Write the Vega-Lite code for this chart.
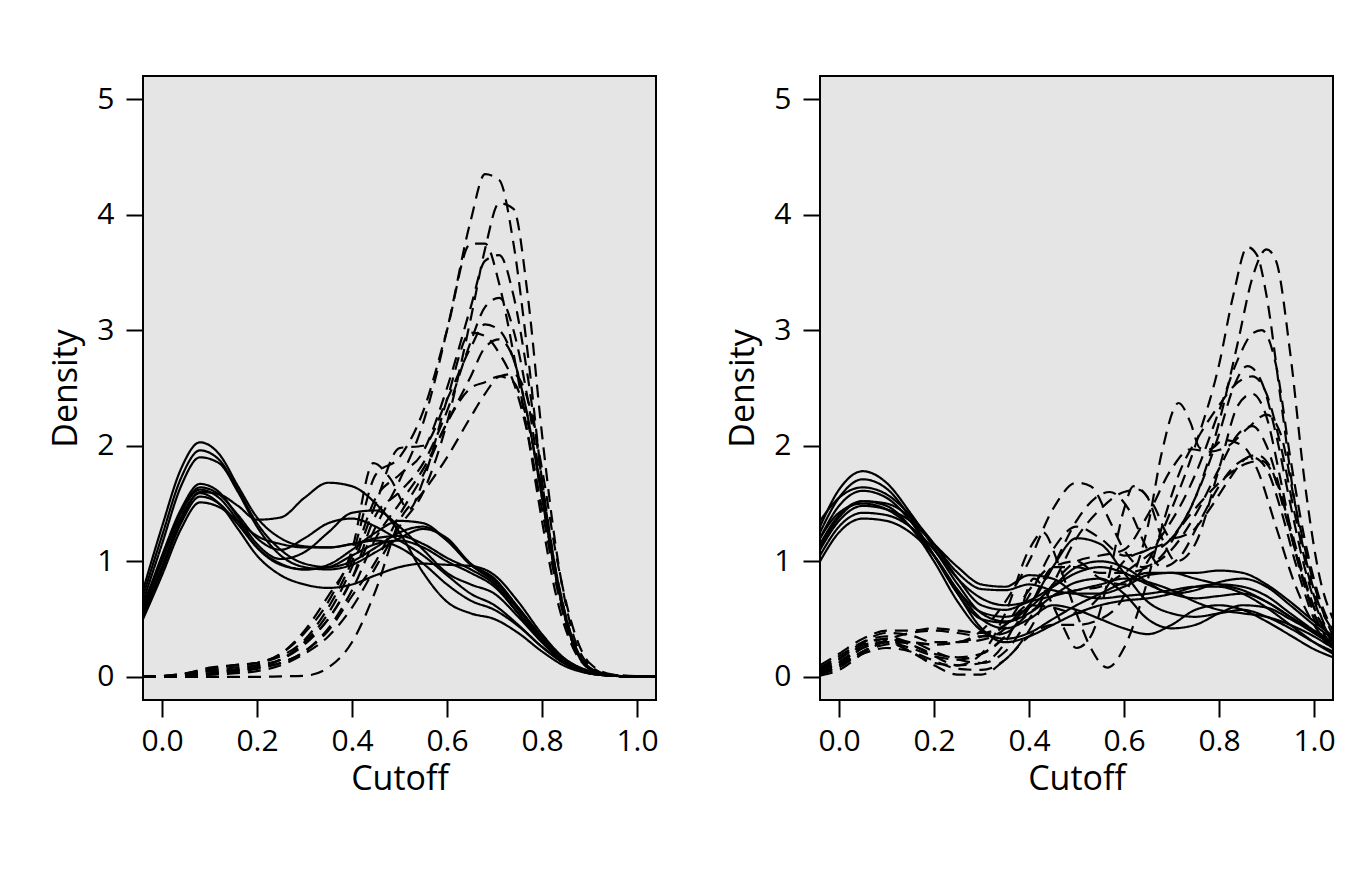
{
"$schema": "https://vega.github.io/schema/vega-lite/v6.json",
"padding": {"left": 48, "top": 75, "right": 5, "bottom": 5},
"background": "white",
"bounds": "flush",
"spacing": 164,
"config": {
  "font": "Open Sans",
  "view": {"fill": "#e5e5e5", "stroke": "black", "strokeWidth": 2},
  "axis": {"domain": false, "grid": false, "tickColor": "black", "tickWidth": 2, "tickSize": 17,
    "labelFont": "Open Sans", "labelFontSize": 30, "labelColor": "black",
    "titleFont": "Open Sans", "titleFontSize": 34, "titleFontWeight": "normal", "titleColor": "black"},
  "axisX": {"labelPadding": 9, "titlePadding": 6},
  "axisY": {"labelPadding": 12, "titlePadding": 13}
},
"hconcat": [
 {"width": 513, "height": 624, "data": {"name": "L"},
  "mark": {"type": "line", "interpolate": "monotone", "strokeWidth": 2.2, "color": "black", "clip": true},
  "encoding": {
   "x": {"field": "x", "type": "quantitative", "scale": {"domain": [-0.04, 1.04], "nice": false, "zero": false}, "axis": {"values": [0, 0.2, 0.4, 0.6, 0.8, 1], "format": ".1f", "title": "Cutoff"}},
   "y": {"field": "y", "type": "quantitative", "scale": {"domain": [-0.2, 5.2], "nice": false}, "axis": {"values": [0, 1, 2, 3, 4, 5], "format": "d", "title": "Density"}},
   "detail": {"field": "c"},
   "strokeDash": {"field": "t", "type": "nominal", "scale": {"domain": ["s", "d"], "range": [[1, 0], [13, 8]]}, "legend": null}
  }},
 {"width": 513, "height": 624, "data": {"name": "R"},
  "mark": {"type": "line", "interpolate": "monotone", "strokeWidth": 2.2, "color": "black", "clip": true},
  "encoding": {
   "x": {"field": "x", "type": "quantitative", "scale": {"domain": [-0.04, 1.04], "nice": false, "zero": false}, "axis": {"values": [0, 0.2, 0.4, 0.6, 0.8, 1], "format": ".1f", "title": "Cutoff"}},
   "y": {"field": "y", "type": "quantitative", "scale": {"domain": [-0.2, 5.2], "nice": false}, "axis": {"values": [0, 1, 2, 3, 4, 5], "format": "d", "title": "Density"}},
   "detail": {"field": "c"},
   "strokeDash": {"field": "t", "type": "nominal", "scale": {"domain": ["s", "d"], "range": [[1, 0], [13, 8]]}, "legend": null}
  }}
],
"datasets": {
"L": [
{"c":"a1","t":"s","x":-0.04,"y":0.75},{"c":"a1","t":"s","x":0,"y":1.3},{"c":"a1","t":"s","x":0.04,"y":1.8},{"c":"a1","t":"s","x":0.08,"y":2.03},{"c":"a1","t":"s","x":0.12,"y":1.93},{"c":"a1","t":"s","x":0.16,"y":1.65},{"c":"a1","t":"s","x":0.2,"y":1.38},{"c":"a1","t":"s","x":0.25,"y":1.2},{"c":"a1","t":"s","x":0.3,"y":1.13},{"c":"a1","t":"s","x":0.35,"y":1.12},{"c":"a1","t":"s","x":0.4,"y":1.15},{"c":"a1","t":"s","x":0.45,"y":1.2},{"c":"a1","t":"s","x":0.5,"y":1.22},{"c":"a1","t":"s","x":0.55,"y":1.15},{"c":"a1","t":"s","x":0.6,"y":1.03},{"c":"a1","t":"s","x":0.65,"y":0.93},{"c":"a1","t":"s","x":0.7,"y":0.8},{"c":"a1","t":"s","x":0.75,"y":0.55},{"c":"a1","t":"s","x":0.8,"y":0.32},{"c":"a1","t":"s","x":0.85,"y":0.14},{"c":"a1","t":"s","x":0.9,"y":0.04},{"c":"a1","t":"s","x":0.95,"y":0.01},{"c":"a1","t":"s","x":1.04,"y":0},
{"c":"a2","t":"s","x":-0.04,"y":0.7},{"c":"a2","t":"s","x":0,"y":1.22},{"c":"a2","t":"s","x":0.04,"y":1.72},{"c":"a2","t":"s","x":0.08,"y":1.96},{"c":"a2","t":"s","x":0.12,"y":1.88},{"c":"a2","t":"s","x":0.16,"y":1.62},{"c":"a2","t":"s","x":0.2,"y":1.33},{"c":"a2","t":"s","x":0.25,"y":1.1},{"c":"a2","t":"s","x":0.3,"y":0.98},{"c":"a2","t":"s","x":0.35,"y":0.95},{"c":"a2","t":"s","x":0.4,"y":1.0},{"c":"a2","t":"s","x":0.45,"y":1.12},{"c":"a2","t":"s","x":0.5,"y":1.25},{"c":"a2","t":"s","x":0.55,"y":1.3},{"c":"a2","t":"s","x":0.6,"y":1.18},{"c":"a2","t":"s","x":0.65,"y":0.97},{"c":"a2","t":"s","x":0.7,"y":0.82},{"c":"a2","t":"s","x":0.75,"y":0.58},{"c":"a2","t":"s","x":0.8,"y":0.33},{"c":"a2","t":"s","x":0.85,"y":0.14},{"c":"a2","t":"s","x":0.9,"y":0.04},{"c":"a2","t":"s","x":0.95,"y":0.01},{"c":"a2","t":"s","x":1.04,"y":0},
{"c":"a3","t":"s","x":-0.04,"y":0.65},{"c":"a3","t":"s","x":0,"y":1.15},{"c":"a3","t":"s","x":0.04,"y":1.65},{"c":"a3","t":"s","x":0.08,"y":1.9},{"c":"a3","t":"s","x":0.12,"y":1.85},{"c":"a3","t":"s","x":0.16,"y":1.6},{"c":"a3","t":"s","x":0.2,"y":1.3},{"c":"a3","t":"s","x":0.25,"y":1.05},{"c":"a3","t":"s","x":0.3,"y":0.95},{"c":"a3","t":"s","x":0.35,"y":0.93},{"c":"a3","t":"s","x":0.4,"y":0.97},{"c":"a3","t":"s","x":0.45,"y":1.08},{"c":"a3","t":"s","x":0.5,"y":1.2},{"c":"a3","t":"s","x":0.55,"y":1.28},{"c":"a3","t":"s","x":0.6,"y":1.2},{"c":"a3","t":"s","x":0.65,"y":0.98},{"c":"a3","t":"s","x":0.7,"y":0.85},{"c":"a3","t":"s","x":0.75,"y":0.6},{"c":"a3","t":"s","x":0.8,"y":0.35},{"c":"a3","t":"s","x":0.85,"y":0.15},{"c":"a3","t":"s","x":0.9,"y":0.05},{"c":"a3","t":"s","x":0.95,"y":0.01},{"c":"a3","t":"s","x":1.04,"y":0},
{"c":"a4","t":"s","x":-0.04,"y":0.55},{"c":"a4","t":"s","x":0,"y":0.95},{"c":"a4","t":"s","x":0.04,"y":1.35},{"c":"a4","t":"s","x":0.08,"y":1.6},{"c":"a4","t":"s","x":0.12,"y":1.58},{"c":"a4","t":"s","x":0.16,"y":1.48},{"c":"a4","t":"s","x":0.2,"y":1.36},{"c":"a4","t":"s","x":0.25,"y":1.38},{"c":"a4","t":"s","x":0.3,"y":1.55},{"c":"a4","t":"s","x":0.35,"y":1.68},{"c":"a4","t":"s","x":0.4,"y":1.65},{"c":"a4","t":"s","x":0.45,"y":1.5},{"c":"a4","t":"s","x":0.5,"y":1.25},{"c":"a4","t":"s","x":0.55,"y":0.9},{"c":"a4","t":"s","x":0.6,"y":0.65},{"c":"a4","t":"s","x":0.65,"y":0.55},{"c":"a4","t":"s","x":0.7,"y":0.5},{"c":"a4","t":"s","x":0.75,"y":0.38},{"c":"a4","t":"s","x":0.8,"y":0.22},{"c":"a4","t":"s","x":0.85,"y":0.09},{"c":"a4","t":"s","x":0.9,"y":0.03},{"c":"a4","t":"s","x":0.95,"y":0.01},{"c":"a4","t":"s","x":1.04,"y":0},
{"c":"a5","t":"s","x":-0.04,"y":0.6},{"c":"a5","t":"s","x":0,"y":1.05},{"c":"a5","t":"s","x":0.04,"y":1.45},{"c":"a5","t":"s","x":0.08,"y":1.67},{"c":"a5","t":"s","x":0.12,"y":1.6},{"c":"a5","t":"s","x":0.16,"y":1.38},{"c":"a5","t":"s","x":0.2,"y":1.15},{"c":"a5","t":"s","x":0.25,"y":1.02},{"c":"a5","t":"s","x":0.3,"y":1.08},{"c":"a5","t":"s","x":0.35,"y":1.25},{"c":"a5","t":"s","x":0.4,"y":1.42},{"c":"a5","t":"s","x":0.45,"y":1.44},{"c":"a5","t":"s","x":0.5,"y":1.3},{"c":"a5","t":"s","x":0.55,"y":1.1},{"c":"a5","t":"s","x":0.6,"y":0.9},{"c":"a5","t":"s","x":0.65,"y":0.8},{"c":"a5","t":"s","x":0.7,"y":0.72},{"c":"a5","t":"s","x":0.75,"y":0.52},{"c":"a5","t":"s","x":0.8,"y":0.3},{"c":"a5","t":"s","x":0.85,"y":0.12},{"c":"a5","t":"s","x":0.9,"y":0.04},{"c":"a5","t":"s","x":0.95,"y":0.01},{"c":"a5","t":"s","x":1.04,"y":0},
{"c":"a6","t":"s","x":-0.04,"y":0.58},{"c":"a6","t":"s","x":0,"y":1.0},{"c":"a6","t":"s","x":0.04,"y":1.42},{"c":"a6","t":"s","x":0.08,"y":1.64},{"c":"a6","t":"s","x":0.12,"y":1.58},{"c":"a6","t":"s","x":0.16,"y":1.4},{"c":"a6","t":"s","x":0.2,"y":1.2},{"c":"a6","t":"s","x":0.25,"y":1.1},{"c":"a6","t":"s","x":0.3,"y":1.2},{"c":"a6","t":"s","x":0.35,"y":1.33},{"c":"a6","t":"s","x":0.4,"y":1.37},{"c":"a6","t":"s","x":0.45,"y":1.3},{"c":"a6","t":"s","x":0.5,"y":1.18},{"c":"a6","t":"s","x":0.55,"y":1.05},{"c":"a6","t":"s","x":0.6,"y":0.88},{"c":"a6","t":"s","x":0.65,"y":0.72},{"c":"a6","t":"s","x":0.7,"y":0.62},{"c":"a6","t":"s","x":0.75,"y":0.45},{"c":"a6","t":"s","x":0.8,"y":0.26},{"c":"a6","t":"s","x":0.85,"y":0.11},{"c":"a6","t":"s","x":0.9,"y":0.03},{"c":"a6","t":"s","x":0.95,"y":0.01},{"c":"a6","t":"s","x":1.04,"y":0},
{"c":"a7","t":"s","x":-0.04,"y":0.62},{"c":"a7","t":"s","x":0,"y":1.02},{"c":"a7","t":"s","x":0.04,"y":1.42},{"c":"a7","t":"s","x":0.08,"y":1.62},{"c":"a7","t":"s","x":0.12,"y":1.55},{"c":"a7","t":"s","x":0.16,"y":1.35},{"c":"a7","t":"s","x":0.2,"y":1.12},{"c":"a7","t":"s","x":0.25,"y":0.97},{"c":"a7","t":"s","x":0.3,"y":0.93},{"c":"a7","t":"s","x":0.35,"y":0.97},{"c":"a7","t":"s","x":0.4,"y":1.1},{"c":"a7","t":"s","x":0.45,"y":1.25},{"c":"a7","t":"s","x":0.5,"y":1.35},{"c":"a7","t":"s","x":0.55,"y":1.33},{"c":"a7","t":"s","x":0.6,"y":1.18},{"c":"a7","t":"s","x":0.65,"y":0.97},{"c":"a7","t":"s","x":0.7,"y":0.84},{"c":"a7","t":"s","x":0.75,"y":0.6},{"c":"a7","t":"s","x":0.8,"y":0.34},{"c":"a7","t":"s","x":0.85,"y":0.14},{"c":"a7","t":"s","x":0.9,"y":0.04},{"c":"a7","t":"s","x":0.95,"y":0.01},{"c":"a7","t":"s","x":1.04,"y":0},
{"c":"a8","t":"s","x":-0.04,"y":0.55},{"c":"a8","t":"s","x":0,"y":0.95},{"c":"a8","t":"s","x":0.04,"y":1.38},{"c":"a8","t":"s","x":0.08,"y":1.59},{"c":"a8","t":"s","x":0.12,"y":1.5},{"c":"a8","t":"s","x":0.16,"y":1.28},{"c":"a8","t":"s","x":0.2,"y":1.05},{"c":"a8","t":"s","x":0.25,"y":0.88},{"c":"a8","t":"s","x":0.3,"y":0.8},{"c":"a8","t":"s","x":0.35,"y":0.77},{"c":"a8","t":"s","x":0.4,"y":0.8},{"c":"a8","t":"s","x":0.45,"y":0.88},{"c":"a8","t":"s","x":0.5,"y":0.95},{"c":"a8","t":"s","x":0.55,"y":0.98},{"c":"a8","t":"s","x":0.6,"y":0.97},{"c":"a8","t":"s","x":0.65,"y":0.96},{"c":"a8","t":"s","x":0.7,"y":0.88},{"c":"a8","t":"s","x":0.75,"y":0.65},{"c":"a8","t":"s","x":0.8,"y":0.37},{"c":"a8","t":"s","x":0.85,"y":0.15},{"c":"a8","t":"s","x":0.9,"y":0.05},{"c":"a8","t":"s","x":0.95,"y":0.01},{"c":"a8","t":"s","x":1.04,"y":0},
{"c":"a9","t":"s","x":-0.04,"y":0.52},{"c":"a9","t":"s","x":0,"y":0.92},{"c":"a9","t":"s","x":0.04,"y":1.33},{"c":"a9","t":"s","x":0.08,"y":1.56},{"c":"a9","t":"s","x":0.12,"y":1.5},{"c":"a9","t":"s","x":0.16,"y":1.32},{"c":"a9","t":"s","x":0.2,"y":1.12},{"c":"a9","t":"s","x":0.25,"y":0.98},{"c":"a9","t":"s","x":0.3,"y":0.93},{"c":"a9","t":"s","x":0.35,"y":0.95},{"c":"a9","t":"s","x":0.4,"y":1.05},{"c":"a9","t":"s","x":0.45,"y":1.15},{"c":"a9","t":"s","x":0.5,"y":1.18},{"c":"a9","t":"s","x":0.55,"y":1.12},{"c":"a9","t":"s","x":0.6,"y":1.0},{"c":"a9","t":"s","x":0.65,"y":0.9},{"c":"a9","t":"s","x":0.7,"y":0.78},{"c":"a9","t":"s","x":0.75,"y":0.55},{"c":"a9","t":"s","x":0.8,"y":0.3},{"c":"a9","t":"s","x":0.85,"y":0.12},{"c":"a9","t":"s","x":0.9,"y":0.04},{"c":"a9","t":"s","x":0.95,"y":0.01},{"c":"a9","t":"s","x":1.04,"y":0},
{"c":"a10","t":"s","x":-0.04,"y":0.5},{"c":"a10","t":"s","x":0,"y":0.88},{"c":"a10","t":"s","x":0.04,"y":1.28},{"c":"a10","t":"s","x":0.08,"y":1.51},{"c":"a10","t":"s","x":0.12,"y":1.47},{"c":"a10","t":"s","x":0.16,"y":1.35},{"c":"a10","t":"s","x":0.2,"y":1.22},{"c":"a10","t":"s","x":0.25,"y":1.15},{"c":"a10","t":"s","x":0.3,"y":1.12},{"c":"a10","t":"s","x":0.35,"y":1.12},{"c":"a10","t":"s","x":0.4,"y":1.15},{"c":"a10","t":"s","x":0.45,"y":1.18},{"c":"a10","t":"s","x":0.5,"y":1.12},{"c":"a10","t":"s","x":0.55,"y":0.98},{"c":"a10","t":"s","x":0.6,"y":0.8},{"c":"a10","t":"s","x":0.65,"y":0.66},{"c":"a10","t":"s","x":0.7,"y":0.58},{"c":"a10","t":"s","x":0.75,"y":0.44},{"c":"a10","t":"s","x":0.8,"y":0.26},{"c":"a10","t":"s","x":0.85,"y":0.11},{"c":"a10","t":"s","x":0.9,"y":0.03},{"c":"a10","t":"s","x":0.95,"y":0.01},{"c":"a10","t":"s","x":1.04,"y":0},
{"c":"b1","t":"d","x":-0.04,"y":0},{"c":"b1","t":"d","x":0.05,"y":0.02},{"c":"b1","t":"d","x":0.1,"y":0.05},{"c":"b1","t":"d","x":0.15,"y":0.06},{"c":"b1","t":"d","x":0.2,"y":0.08},{"c":"b1","t":"d","x":0.25,"y":0.15},{"c":"b1","t":"d","x":0.3,"y":0.3},{"c":"b1","t":"d","x":0.35,"y":0.5},{"c":"b1","t":"d","x":0.4,"y":0.85},{"c":"b1","t":"d","x":0.45,"y":1.3},{"c":"b1","t":"d","x":0.5,"y":1.7},{"c":"b1","t":"d","x":0.55,"y":2.2},{"c":"b1","t":"d","x":0.6,"y":3.0},{"c":"b1","t":"d","x":0.65,"y":3.95},{"c":"b1","t":"d","x":0.68,"y":4.35},{"c":"b1","t":"d","x":0.71,"y":4.3},{"c":"b1","t":"d","x":0.74,"y":3.75},{"c":"b1","t":"d","x":0.77,"y":2.8},{"c":"b1","t":"d","x":0.8,"y":1.7},{"c":"b1","t":"d","x":0.83,"y":0.9},{"c":"b1","t":"d","x":0.86,"y":0.38},{"c":"b1","t":"d","x":0.9,"y":0.08},{"c":"b1","t":"d","x":0.95,"y":0.01},{"c":"b1","t":"d","x":1.04,"y":0},
{"c":"b2","t":"d","x":-0.04,"y":0},{"c":"b2","t":"d","x":0.05,"y":0.01},{"c":"b2","t":"d","x":0.1,"y":0.02},{"c":"b2","t":"d","x":0.15,"y":0.03},{"c":"b2","t":"d","x":0.2,"y":0.05},{"c":"b2","t":"d","x":0.25,"y":0.1},{"c":"b2","t":"d","x":0.3,"y":0.2},{"c":"b2","t":"d","x":0.35,"y":0.35},{"c":"b2","t":"d","x":0.4,"y":0.6},{"c":"b2","t":"d","x":0.45,"y":0.95},{"c":"b2","t":"d","x":0.5,"y":1.3},{"c":"b2","t":"d","x":0.55,"y":1.6},{"c":"b2","t":"d","x":0.6,"y":2.2},{"c":"b2","t":"d","x":0.65,"y":3.1},{"c":"b2","t":"d","x":0.68,"y":3.7},{"c":"b2","t":"d","x":0.71,"y":4.1},{"c":"b2","t":"d","x":0.74,"y":4.05},{"c":"b2","t":"d","x":0.77,"y":3.3},{"c":"b2","t":"d","x":0.8,"y":2.1},{"c":"b2","t":"d","x":0.83,"y":1.1},{"c":"b2","t":"d","x":0.86,"y":0.45},{"c":"b2","t":"d","x":0.9,"y":0.1},{"c":"b2","t":"d","x":0.95,"y":0.01},{"c":"b2","t":"d","x":1.04,"y":0},
{"c":"b3","t":"d","x":-0.04,"y":0},{"c":"b3","t":"d","x":0.05,"y":0.03},{"c":"b3","t":"d","x":0.1,"y":0.08},{"c":"b3","t":"d","x":0.15,"y":0.1},{"c":"b3","t":"d","x":0.2,"y":0.12},{"c":"b3","t":"d","x":0.25,"y":0.2},{"c":"b3","t":"d","x":0.3,"y":0.4},{"c":"b3","t":"d","x":0.35,"y":0.7},{"c":"b3","t":"d","x":0.4,"y":1.05},{"c":"b3","t":"d","x":0.45,"y":1.75},{"c":"b3","t":"d","x":0.5,"y":1.9},{"c":"b3","t":"d","x":0.55,"y":2.3},{"c":"b3","t":"d","x":0.6,"y":3.0},{"c":"b3","t":"d","x":0.65,"y":3.75},{"c":"b3","t":"d","x":0.68,"y":3.75},{"c":"b3","t":"d","x":0.71,"y":3.4},{"c":"b3","t":"d","x":0.74,"y":2.8},{"c":"b3","t":"d","x":0.77,"y":2.1},{"c":"b3","t":"d","x":0.8,"y":1.35},{"c":"b3","t":"d","x":0.83,"y":0.7},{"c":"b3","t":"d","x":0.86,"y":0.3},{"c":"b3","t":"d","x":0.9,"y":0.07},{"c":"b3","t":"d","x":0.95,"y":0.01},{"c":"b3","t":"d","x":1.04,"y":0},
{"c":"b4","t":"d","x":-0.04,"y":0},{"c":"b4","t":"d","x":0.05,"y":0.02},{"c":"b4","t":"d","x":0.1,"y":0.06},{"c":"b4","t":"d","x":0.15,"y":0.1},{"c":"b4","t":"d","x":0.2,"y":0.12},{"c":"b4","t":"d","x":0.25,"y":0.18},{"c":"b4","t":"d","x":0.3,"y":0.32},{"c":"b4","t":"d","x":0.35,"y":0.6},{"c":"b4","t":"d","x":0.4,"y":1.0},{"c":"b4","t":"d","x":0.45,"y":1.55},{"c":"b4","t":"d","x":0.5,"y":1.75},{"c":"b4","t":"d","x":0.55,"y":1.95},{"c":"b4","t":"d","x":0.6,"y":2.5},{"c":"b4","t":"d","x":0.65,"y":3.2},{"c":"b4","t":"d","x":0.68,"y":3.6},{"c":"b4","t":"d","x":0.71,"y":3.65},{"c":"b4","t":"d","x":0.74,"y":3.3},{"c":"b4","t":"d","x":0.77,"y":2.6},{"c":"b4","t":"d","x":0.8,"y":1.7},{"c":"b4","t":"d","x":0.83,"y":0.9},{"c":"b4","t":"d","x":0.86,"y":0.38},{"c":"b4","t":"d","x":0.9,"y":0.08},{"c":"b4","t":"d","x":0.95,"y":0.01},{"c":"b4","t":"d","x":1.04,"y":0},
{"c":"b5","t":"d","x":-0.04,"y":0},{"c":"b5","t":"d","x":0.05,"y":0.01},{"c":"b5","t":"d","x":0.1,"y":0.03},{"c":"b5","t":"d","x":0.15,"y":0.06},{"c":"b5","t":"d","x":0.2,"y":0.1},{"c":"b5","t":"d","x":0.25,"y":0.15},{"c":"b5","t":"d","x":0.3,"y":0.28},{"c":"b5","t":"d","x":0.35,"y":0.5},{"c":"b5","t":"d","x":0.4,"y":0.85},{"c":"b5","t":"d","x":0.45,"y":1.4},{"c":"b5","t":"d","x":0.5,"y":1.6},{"c":"b5","t":"d","x":0.55,"y":1.85},{"c":"b5","t":"d","x":0.6,"y":2.3},{"c":"b5","t":"d","x":0.65,"y":2.9},{"c":"b5","t":"d","x":0.68,"y":3.2},{"c":"b5","t":"d","x":0.71,"y":3.28},{"c":"b5","t":"d","x":0.74,"y":3.0},{"c":"b5","t":"d","x":0.77,"y":2.4},{"c":"b5","t":"d","x":0.8,"y":1.6},{"c":"b5","t":"d","x":0.83,"y":0.85},{"c":"b5","t":"d","x":0.86,"y":0.35},{"c":"b5","t":"d","x":0.9,"y":0.07},{"c":"b5","t":"d","x":0.95,"y":0.01},{"c":"b5","t":"d","x":1.04,"y":0},
{"c":"b6","t":"d","x":-0.04,"y":0},{"c":"b6","t":"d","x":0.05,"y":0.02},{"c":"b6","t":"d","x":0.1,"y":0.05},{"c":"b6","t":"d","x":0.15,"y":0.08},{"c":"b6","t":"d","x":0.2,"y":0.1},{"c":"b6","t":"d","x":0.25,"y":0.15},{"c":"b6","t":"d","x":0.3,"y":0.3},{"c":"b6","t":"d","x":0.35,"y":0.55},{"c":"b6","t":"d","x":0.4,"y":0.95},{"c":"b6","t":"d","x":0.45,"y":1.5},{"c":"b6","t":"d","x":0.5,"y":1.98},{"c":"b6","t":"d","x":0.55,"y":2.0},{"c":"b6","t":"d","x":0.6,"y":2.4},{"c":"b6","t":"d","x":0.65,"y":2.85},{"c":"b6","t":"d","x":0.68,"y":3.05},{"c":"b6","t":"d","x":0.71,"y":3.0},{"c":"b6","t":"d","x":0.74,"y":2.75},{"c":"b6","t":"d","x":0.77,"y":2.25},{"c":"b6","t":"d","x":0.8,"y":1.55},{"c":"b6","t":"d","x":0.83,"y":0.85},{"c":"b6","t":"d","x":0.86,"y":0.35},{"c":"b6","t":"d","x":0.9,"y":0.07},{"c":"b6","t":"d","x":0.95,"y":0.01},{"c":"b6","t":"d","x":1.04,"y":0},
{"c":"b7","t":"d","x":-0.04,"y":0},{"c":"b7","t":"d","x":0.05,"y":0.03},{"c":"b7","t":"d","x":0.1,"y":0.07},{"c":"b7","t":"d","x":0.15,"y":0.1},{"c":"b7","t":"d","x":0.2,"y":0.12},{"c":"b7","t":"d","x":0.25,"y":0.2},{"c":"b7","t":"d","x":0.3,"y":0.38},{"c":"b7","t":"d","x":0.35,"y":0.65},{"c":"b7","t":"d","x":0.4,"y":1.1},{"c":"b7","t":"d","x":0.445,"y":1.85},{"c":"b7","t":"d","x":0.48,"y":1.72},{"c":"b7","t":"d","x":0.52,"y":1.45},{"c":"b7","t":"d","x":0.55,"y":1.7},{"c":"b7","t":"d","x":0.6,"y":2.4},{"c":"b7","t":"d","x":0.65,"y":2.98},{"c":"b7","t":"d","x":0.68,"y":2.95},{"c":"b7","t":"d","x":0.71,"y":2.8},{"c":"b7","t":"d","x":0.74,"y":2.55},{"c":"b7","t":"d","x":0.77,"y":2.1},{"c":"b7","t":"d","x":0.8,"y":1.45},{"c":"b7","t":"d","x":0.83,"y":0.8},{"c":"b7","t":"d","x":0.86,"y":0.33},{"c":"b7","t":"d","x":0.9,"y":0.07},{"c":"b7","t":"d","x":0.95,"y":0.01},{"c":"b7","t":"d","x":1.04,"y":0},
{"c":"b8","t":"d","x":-0.04,"y":0},{"c":"b8","t":"d","x":0.05,"y":0.01},{"c":"b8","t":"d","x":0.1,"y":0.03},{"c":"b8","t":"d","x":0.15,"y":0.05},{"c":"b8","t":"d","x":0.2,"y":0.08},{"c":"b8","t":"d","x":0.25,"y":0.12},{"c":"b8","t":"d","x":0.3,"y":0.22},{"c":"b8","t":"d","x":0.35,"y":0.42},{"c":"b8","t":"d","x":0.4,"y":0.75},{"c":"b8","t":"d","x":0.45,"y":1.2},{"c":"b8","t":"d","x":0.5,"y":1.5},{"c":"b8","t":"d","x":0.55,"y":1.8},{"c":"b8","t":"d","x":0.6,"y":2.2},{"c":"b8","t":"d","x":0.65,"y":2.6},{"c":"b8","t":"d","x":0.68,"y":2.85},{"c":"b8","t":"d","x":0.71,"y":2.92},{"c":"b8","t":"d","x":0.74,"y":2.75},{"c":"b8","t":"d","x":0.77,"y":2.25},{"c":"b8","t":"d","x":0.8,"y":1.55},{"c":"b8","t":"d","x":0.83,"y":0.85},{"c":"b8","t":"d","x":0.86,"y":0.35},{"c":"b8","t":"d","x":0.9,"y":0.07},{"c":"b8","t":"d","x":0.95,"y":0.01},{"c":"b8","t":"d","x":1.04,"y":0},
{"c":"b9","t":"d","x":-0.04,"y":0},{"c":"b9","t":"d","x":0.05,"y":0},{"c":"b9","t":"d","x":0.1,"y":0},{"c":"b9","t":"d","x":0.15,"y":0},{"c":"b9","t":"d","x":0.2,"y":0},{"c":"b9","t":"d","x":0.25,"y":0.005},{"c":"b9","t":"d","x":0.3,"y":0.01},{"c":"b9","t":"d","x":0.35,"y":0.08},{"c":"b9","t":"d","x":0.4,"y":0.3},{"c":"b9","t":"d","x":0.45,"y":0.75},{"c":"b9","t":"d","x":0.5,"y":1.35},{"c":"b9","t":"d","x":0.55,"y":1.6},{"c":"b9","t":"d","x":0.6,"y":1.9},{"c":"b9","t":"d","x":0.65,"y":2.25},{"c":"b9","t":"d","x":0.68,"y":2.45},{"c":"b9","t":"d","x":0.71,"y":2.6},{"c":"b9","t":"d","x":0.74,"y":2.62},{"c":"b9","t":"d","x":0.77,"y":2.4},{"c":"b9","t":"d","x":0.8,"y":1.8},{"c":"b9","t":"d","x":0.83,"y":1.05},{"c":"b9","t":"d","x":0.86,"y":0.5},{"c":"b9","t":"d","x":0.9,"y":0.12},{"c":"b9","t":"d","x":0.95,"y":0.02},{"c":"b9","t":"d","x":1.04,"y":0},
{"c":"b10","t":"d","x":-0.04,"y":0},{"c":"b10","t":"d","x":0.05,"y":0.01},{"c":"b10","t":"d","x":0.1,"y":0.02},{"c":"b10","t":"d","x":0.15,"y":0.04},{"c":"b10","t":"d","x":0.2,"y":0.07},{"c":"b10","t":"d","x":0.25,"y":0.12},{"c":"b10","t":"d","x":0.3,"y":0.22},{"c":"b10","t":"d","x":0.35,"y":0.4},{"c":"b10","t":"d","x":0.4,"y":0.7},{"c":"b10","t":"d","x":0.45,"y":1.0},{"c":"b10","t":"d","x":0.5,"y":1.4},{"c":"b10","t":"d","x":0.55,"y":1.75},{"c":"b10","t":"d","x":0.6,"y":2.2},{"c":"b10","t":"d","x":0.65,"y":2.5},{"c":"b10","t":"d","x":0.68,"y":2.55},{"c":"b10","t":"d","x":0.71,"y":2.6},{"c":"b10","t":"d","x":0.74,"y":2.55},{"c":"b10","t":"d","x":0.77,"y":2.2},{"c":"b10","t":"d","x":0.8,"y":1.6},{"c":"b10","t":"d","x":0.83,"y":0.9},{"c":"b10","t":"d","x":0.86,"y":0.38},{"c":"b10","t":"d","x":0.9,"y":0.08},{"c":"b10","t":"d","x":0.95,"y":0.01},{"c":"b10","t":"d","x":1.04,"y":0}
],
"R": [
{"c":"c1","t":"s","x":-0.04,"y":1.3},{"c":"c1","t":"s","x":0,"y":1.62},{"c":"c1","t":"s","x":0.05,"y":1.78},{"c":"c1","t":"s","x":0.1,"y":1.68},{"c":"c1","t":"s","x":0.15,"y":1.42},{"c":"c1","t":"s","x":0.2,"y":1.12},{"c":"c1","t":"s","x":0.25,"y":0.85},{"c":"c1","t":"s","x":0.3,"y":0.68},{"c":"c1","t":"s","x":0.35,"y":0.62},{"c":"c1","t":"s","x":0.4,"y":0.66},{"c":"c1","t":"s","x":0.45,"y":0.78},{"c":"c1","t":"s","x":0.5,"y":0.9},{"c":"c1","t":"s","x":0.55,"y":0.95},{"c":"c1","t":"s","x":0.6,"y":0.9},{"c":"c1","t":"s","x":0.65,"y":0.8},{"c":"c1","t":"s","x":0.7,"y":0.72},{"c":"c1","t":"s","x":0.75,"y":0.68},{"c":"c1","t":"s","x":0.8,"y":0.7},{"c":"c1","t":"s","x":0.85,"y":0.72},{"c":"c1","t":"s","x":0.9,"y":0.65},{"c":"c1","t":"s","x":0.95,"y":0.52},{"c":"c1","t":"s","x":1.0,"y":0.38},{"c":"c1","t":"s","x":1.04,"y":0.28},
{"c":"c2","t":"s","x":-0.04,"y":1.25},{"c":"c2","t":"s","x":0,"y":1.55},{"c":"c2","t":"s","x":0.05,"y":1.71},{"c":"c2","t":"s","x":0.1,"y":1.63},{"c":"c2","t":"s","x":0.15,"y":1.38},{"c":"c2","t":"s","x":0.2,"y":1.05},{"c":"c2","t":"s","x":0.25,"y":0.72},{"c":"c2","t":"s","x":0.3,"y":0.5},{"c":"c2","t":"s","x":0.35,"y":0.47},{"c":"c2","t":"s","x":0.4,"y":0.62},{"c":"c2","t":"s","x":0.45,"y":0.95},{"c":"c2","t":"s","x":0.5,"y":1.2},{"c":"c2","t":"s","x":0.55,"y":1.15},{"c":"c2","t":"s","x":0.6,"y":0.9},{"c":"c2","t":"s","x":0.65,"y":0.65},{"c":"c2","t":"s","x":0.7,"y":0.55},{"c":"c2","t":"s","x":0.75,"y":0.52},{"c":"c2","t":"s","x":0.8,"y":0.55},{"c":"c2","t":"s","x":0.85,"y":0.58},{"c":"c2","t":"s","x":0.9,"y":0.52},{"c":"c2","t":"s","x":0.95,"y":0.42},{"c":"c2","t":"s","x":1.0,"y":0.3},{"c":"c2","t":"s","x":1.04,"y":0.22},
{"c":"c3","t":"s","x":-0.04,"y":1.35},{"c":"c3","t":"s","x":0,"y":1.55},{"c":"c3","t":"s","x":0.05,"y":1.64},{"c":"c3","t":"s","x":0.1,"y":1.58},{"c":"c3","t":"s","x":0.15,"y":1.4},{"c":"c3","t":"s","x":0.2,"y":1.15},{"c":"c3","t":"s","x":0.25,"y":0.9},{"c":"c3","t":"s","x":0.3,"y":0.76},{"c":"c3","t":"s","x":0.35,"y":0.75},{"c":"c3","t":"s","x":0.4,"y":0.8},{"c":"c3","t":"s","x":0.45,"y":0.75},{"c":"c3","t":"s","x":0.5,"y":0.72},{"c":"c3","t":"s","x":0.55,"y":0.72},{"c":"c3","t":"s","x":0.6,"y":0.78},{"c":"c3","t":"s","x":0.65,"y":0.88},{"c":"c3","t":"s","x":0.7,"y":0.9},{"c":"c3","t":"s","x":0.75,"y":0.85},{"c":"c3","t":"s","x":0.8,"y":0.8},{"c":"c3","t":"s","x":0.85,"y":0.75},{"c":"c3","t":"s","x":0.9,"y":0.65},{"c":"c3","t":"s","x":0.95,"y":0.52},{"c":"c3","t":"s","x":1.0,"y":0.4},{"c":"c3","t":"s","x":1.04,"y":0.3},
{"c":"c4","t":"s","x":-0.04,"y":1.2},{"c":"c4","t":"s","x":0,"y":1.48},{"c":"c4","t":"s","x":0.05,"y":1.61},{"c":"c4","t":"s","x":0.1,"y":1.55},{"c":"c4","t":"s","x":0.15,"y":1.35},{"c":"c4","t":"s","x":0.2,"y":1.05},{"c":"c4","t":"s","x":0.25,"y":0.75},{"c":"c4","t":"s","x":0.3,"y":0.56},{"c":"c4","t":"s","x":0.35,"y":0.52},{"c":"c4","t":"s","x":0.4,"y":0.6},{"c":"c4","t":"s","x":0.45,"y":0.78},{"c":"c4","t":"s","x":0.5,"y":0.95},{"c":"c4","t":"s","x":0.55,"y":1.0},{"c":"c4","t":"s","x":0.6,"y":0.95},{"c":"c4","t":"s","x":0.65,"y":0.82},{"c":"c4","t":"s","x":0.7,"y":0.72},{"c":"c4","t":"s","x":0.75,"y":0.75},{"c":"c4","t":"s","x":0.8,"y":0.82},{"c":"c4","t":"s","x":0.85,"y":0.85},{"c":"c4","t":"s","x":0.9,"y":0.78},{"c":"c4","t":"s","x":0.95,"y":0.62},{"c":"c4","t":"s","x":1.0,"y":0.45},{"c":"c4","t":"s","x":1.04,"y":0.33},
{"c":"c5","t":"s","x":-0.04,"y":1.15},{"c":"c5","t":"s","x":0,"y":1.4},{"c":"c5","t":"s","x":0.05,"y":1.52},{"c":"c5","t":"s","x":0.1,"y":1.48},{"c":"c5","t":"s","x":0.15,"y":1.3},{"c":"c5","t":"s","x":0.2,"y":1.0},{"c":"c5","t":"s","x":0.25,"y":0.65},{"c":"c5","t":"s","x":0.3,"y":0.4},{"c":"c5","t":"s","x":0.35,"y":0.33},{"c":"c5","t":"s","x":0.4,"y":0.38},{"c":"c5","t":"s","x":0.45,"y":0.5},{"c":"c5","t":"s","x":0.5,"y":0.62},{"c":"c5","t":"s","x":0.55,"y":0.72},{"c":"c5","t":"s","x":0.6,"y":0.82},{"c":"c5","t":"s","x":0.65,"y":0.9},{"c":"c5","t":"s","x":0.7,"y":0.9},{"c":"c5","t":"s","x":0.75,"y":0.9},{"c":"c5","t":"s","x":0.8,"y":0.92},{"c":"c5","t":"s","x":0.85,"y":0.9},{"c":"c5","t":"s","x":0.9,"y":0.8},{"c":"c5","t":"s","x":0.95,"y":0.65},{"c":"c5","t":"s","x":1.0,"y":0.48},{"c":"c5","t":"s","x":1.04,"y":0.35},
{"c":"c6","t":"s","x":-0.04,"y":1.2},{"c":"c6","t":"s","x":0,"y":1.42},{"c":"c6","t":"s","x":0.05,"y":1.5},{"c":"c6","t":"s","x":0.1,"y":1.45},{"c":"c6","t":"s","x":0.15,"y":1.3},{"c":"c6","t":"s","x":0.2,"y":1.05},{"c":"c6","t":"s","x":0.25,"y":0.72},{"c":"c6","t":"s","x":0.3,"y":0.42},{"c":"c6","t":"s","x":0.35,"y":0.3},{"c":"c6","t":"s","x":0.4,"y":0.35},{"c":"c6","t":"s","x":0.45,"y":0.45},{"c":"c6","t":"s","x":0.5,"y":0.55},{"c":"c6","t":"s","x":0.55,"y":0.62},{"c":"c6","t":"s","x":0.6,"y":0.66},{"c":"c6","t":"s","x":0.65,"y":0.68},{"c":"c6","t":"s","x":0.7,"y":0.72},{"c":"c6","t":"s","x":0.75,"y":0.78},{"c":"c6","t":"s","x":0.8,"y":0.8},{"c":"c6","t":"s","x":0.85,"y":0.78},{"c":"c6","t":"s","x":0.9,"y":0.7},{"c":"c6","t":"s","x":0.95,"y":0.55},{"c":"c6","t":"s","x":1.0,"y":0.4},{"c":"c6","t":"s","x":1.04,"y":0.28},
{"c":"c7","t":"s","x":-0.04,"y":1.1},{"c":"c7","t":"s","x":0,"y":1.35},{"c":"c7","t":"s","x":0.05,"y":1.48},{"c":"c7","t":"s","x":0.1,"y":1.45},{"c":"c7","t":"s","x":0.15,"y":1.35},{"c":"c7","t":"s","x":0.2,"y":1.15},{"c":"c7","t":"s","x":0.25,"y":0.95},{"c":"c7","t":"s","x":0.3,"y":0.8},{"c":"c7","t":"s","x":0.35,"y":0.78},{"c":"c7","t":"s","x":0.4,"y":0.88},{"c":"c7","t":"s","x":0.45,"y":0.85},{"c":"c7","t":"s","x":0.5,"y":0.72},{"c":"c7","t":"s","x":0.55,"y":0.68},{"c":"c7","t":"s","x":0.6,"y":0.7},{"c":"c7","t":"s","x":0.65,"y":0.72},{"c":"c7","t":"s","x":0.7,"y":0.75},{"c":"c7","t":"s","x":0.75,"y":0.78},{"c":"c7","t":"s","x":0.8,"y":0.78},{"c":"c7","t":"s","x":0.85,"y":0.72},{"c":"c7","t":"s","x":0.9,"y":0.6},{"c":"c7","t":"s","x":0.95,"y":0.45},{"c":"c7","t":"s","x":1.0,"y":0.3},{"c":"c7","t":"s","x":1.04,"y":0.2},
{"c":"c8","t":"s","x":-0.04,"y":1.05},{"c":"c8","t":"s","x":0,"y":1.3},{"c":"c8","t":"s","x":0.05,"y":1.42},{"c":"c8","t":"s","x":0.1,"y":1.4},{"c":"c8","t":"s","x":0.15,"y":1.3},{"c":"c8","t":"s","x":0.2,"y":1.1},{"c":"c8","t":"s","x":0.25,"y":0.8},{"c":"c8","t":"s","x":0.3,"y":0.55},{"c":"c8","t":"s","x":0.35,"y":0.48},{"c":"c8","t":"s","x":0.4,"y":0.55},{"c":"c8","t":"s","x":0.45,"y":0.7},{"c":"c8","t":"s","x":0.5,"y":0.82},{"c":"c8","t":"s","x":0.55,"y":0.85},{"c":"c8","t":"s","x":0.6,"y":0.72},{"c":"c8","t":"s","x":0.65,"y":0.5},{"c":"c8","t":"s","x":0.7,"y":0.42},{"c":"c8","t":"s","x":0.75,"y":0.45},{"c":"c8","t":"s","x":0.8,"y":0.55},{"c":"c8","t":"s","x":0.85,"y":0.62},{"c":"c8","t":"s","x":0.9,"y":0.6},{"c":"c8","t":"s","x":0.95,"y":0.5},{"c":"c8","t":"s","x":1.0,"y":0.38},{"c":"c8","t":"s","x":1.04,"y":0.27},
{"c":"c9","t":"s","x":-0.04,"y":1.0},{"c":"c9","t":"s","x":0,"y":1.25},{"c":"c9","t":"s","x":0.05,"y":1.37},{"c":"c9","t":"s","x":0.1,"y":1.35},{"c":"c9","t":"s","x":0.15,"y":1.25},{"c":"c9","t":"s","x":0.2,"y":1.05},{"c":"c9","t":"s","x":0.25,"y":0.75},{"c":"c9","t":"s","x":0.3,"y":0.5},{"c":"c9","t":"s","x":0.35,"y":0.42},{"c":"c9","t":"s","x":0.4,"y":0.5},{"c":"c9","t":"s","x":0.45,"y":0.62},{"c":"c9","t":"s","x":0.5,"y":0.58},{"c":"c9","t":"s","x":0.55,"y":0.5},{"c":"c9","t":"s","x":0.6,"y":0.42},{"c":"c9","t":"s","x":0.65,"y":0.37},{"c":"c9","t":"s","x":0.7,"y":0.45},{"c":"c9","t":"s","x":0.75,"y":0.58},{"c":"c9","t":"s","x":0.8,"y":0.62},{"c":"c9","t":"s","x":0.85,"y":0.58},{"c":"c9","t":"s","x":0.9,"y":0.48},{"c":"c9","t":"s","x":0.95,"y":0.36},{"c":"c9","t":"s","x":1.0,"y":0.24},{"c":"c9","t":"s","x":1.04,"y":0.17},
{"c":"c10","t":"s","x":-0.04,"y":1.12},{"c":"c10","t":"s","x":0,"y":1.38},{"c":"c10","t":"s","x":0.05,"y":1.52},{"c":"c10","t":"s","x":0.1,"y":1.5},{"c":"c10","t":"s","x":0.15,"y":1.38},{"c":"c10","t":"s","x":0.2,"y":1.15},{"c":"c10","t":"s","x":0.25,"y":0.85},{"c":"c10","t":"s","x":0.3,"y":0.62},{"c":"c10","t":"s","x":0.35,"y":0.58},{"c":"c10","t":"s","x":0.4,"y":0.65},{"c":"c10","t":"s","x":0.45,"y":0.7},{"c":"c10","t":"s","x":0.5,"y":0.75},{"c":"c10","t":"s","x":0.55,"y":0.8},{"c":"c10","t":"s","x":0.6,"y":0.85},{"c":"c10","t":"s","x":0.65,"y":0.82},{"c":"c10","t":"s","x":0.7,"y":0.75},{"c":"c10","t":"s","x":0.75,"y":0.65},{"c":"c10","t":"s","x":0.8,"y":0.58},{"c":"c10","t":"s","x":0.85,"y":0.55},{"c":"c10","t":"s","x":0.9,"y":0.52},{"c":"c10","t":"s","x":0.95,"y":0.45},{"c":"c10","t":"s","x":1.0,"y":0.35},{"c":"c10","t":"s","x":1.04,"y":0.25},
{"c":"d1","t":"d","x":-0.04,"y":0.04},{"c":"d1","t":"d","x":0,"y":0.12},{"c":"d1","t":"d","x":0.05,"y":0.28},{"c":"d1","t":"d","x":0.1,"y":0.33},{"c":"d1","t":"d","x":0.15,"y":0.28},{"c":"d1","t":"d","x":0.2,"y":0.2},{"c":"d1","t":"d","x":0.25,"y":0.17},{"c":"d1","t":"d","x":0.3,"y":0.2},{"c":"d1","t":"d","x":0.35,"y":0.35},{"c":"d1","t":"d","x":0.4,"y":0.6},{"c":"d1","t":"d","x":0.45,"y":0.95},{"c":"d1","t":"d","x":0.5,"y":1.0},{"c":"d1","t":"d","x":0.55,"y":0.85},{"c":"d1","t":"d","x":0.6,"y":0.8},{"c":"d1","t":"d","x":0.65,"y":1.0},{"c":"d1","t":"d","x":0.7,"y":1.45},{"c":"d1","t":"d","x":0.75,"y":2.0},{"c":"d1","t":"d","x":0.8,"y":2.7},{"c":"d1","t":"d","x":0.83,"y":3.3},{"c":"d1","t":"d","x":0.86,"y":3.72},{"c":"d1","t":"d","x":0.88,"y":3.65},{"c":"d1","t":"d","x":0.9,"y":3.3},{"c":"d1","t":"d","x":0.93,"y":2.4},{"c":"d1","t":"d","x":0.96,"y":1.5},{"c":"d1","t":"d","x":1.0,"y":0.75},{"c":"d1","t":"d","x":1.04,"y":0.4},
{"c":"d2","t":"d","x":-0.04,"y":0.02},{"c":"d2","t":"d","x":0,"y":0.08},{"c":"d2","t":"d","x":0.05,"y":0.22},{"c":"d2","t":"d","x":0.1,"y":0.32},{"c":"d2","t":"d","x":0.15,"y":0.38},{"c":"d2","t":"d","x":0.2,"y":0.4},{"c":"d2","t":"d","x":0.25,"y":0.38},{"c":"d2","t":"d","x":0.3,"y":0.35},{"c":"d2","t":"d","x":0.35,"y":0.38},{"c":"d2","t":"d","x":0.4,"y":0.55},{"c":"d2","t":"d","x":0.45,"y":0.7},{"c":"d2","t":"d","x":0.5,"y":0.75},{"c":"d2","t":"d","x":0.55,"y":0.78},{"c":"d2","t":"d","x":0.6,"y":0.9},{"c":"d2","t":"d","x":0.65,"y":1.05},{"c":"d2","t":"d","x":0.7,"y":1.2},{"c":"d2","t":"d","x":0.75,"y":1.55},{"c":"d2","t":"d","x":0.8,"y":2.2},{"c":"d2","t":"d","x":0.84,"y":2.9},{"c":"d2","t":"d","x":0.87,"y":3.45},{"c":"d2","t":"d","x":0.9,"y":3.7},{"c":"d2","t":"d","x":0.92,"y":3.6},{"c":"d2","t":"d","x":0.95,"y":2.8},{"c":"d2","t":"d","x":0.98,"y":1.7},{"c":"d2","t":"d","x":1.01,"y":0.9},{"c":"d2","t":"d","x":1.04,"y":0.5},
{"c":"d3","t":"d","x":-0.04,"y":0.06},{"c":"d3","t":"d","x":0,"y":0.15},{"c":"d3","t":"d","x":0.05,"y":0.3},{"c":"d3","t":"d","x":0.1,"y":0.38},{"c":"d3","t":"d","x":0.15,"y":0.36},{"c":"d3","t":"d","x":0.2,"y":0.3},{"c":"d3","t":"d","x":0.25,"y":0.3},{"c":"d3","t":"d","x":0.3,"y":0.32},{"c":"d3","t":"d","x":0.35,"y":0.42},{"c":"d3","t":"d","x":0.4,"y":0.7},{"c":"d3","t":"d","x":0.45,"y":1.1},{"c":"d3","t":"d","x":0.5,"y":1.3},{"c":"d3","t":"d","x":0.55,"y":1.2},{"c":"d3","t":"d","x":0.6,"y":1.05},{"c":"d3","t":"d","x":0.65,"y":1.1},{"c":"d3","t":"d","x":0.7,"y":1.35},{"c":"d3","t":"d","x":0.75,"y":1.75},{"c":"d3","t":"d","x":0.8,"y":2.3},{"c":"d3","t":"d","x":0.84,"y":2.75},{"c":"d3","t":"d","x":0.87,"y":2.97},{"c":"d3","t":"d","x":0.89,"y":3.0},{"c":"d3","t":"d","x":0.92,"y":2.7},{"c":"d3","t":"d","x":0.95,"y":1.9},{"c":"d3","t":"d","x":0.98,"y":1.2},{"c":"d3","t":"d","x":1.01,"y":0.7},{"c":"d3","t":"d","x":1.04,"y":0.4},
{"c":"d4","t":"d","x":-0.04,"y":0.1},{"c":"d4","t":"d","x":0,"y":0.2},{"c":"d4","t":"d","x":0.05,"y":0.33},{"c":"d4","t":"d","x":0.1,"y":0.4},{"c":"d4","t":"d","x":0.15,"y":0.4},{"c":"d4","t":"d","x":0.2,"y":0.42},{"c":"d4","t":"d","x":0.25,"y":0.4},{"c":"d4","t":"d","x":0.3,"y":0.38},{"c":"d4","t":"d","x":0.35,"y":0.45},{"c":"d4","t":"d","x":0.4,"y":0.62},{"c":"d4","t":"d","x":0.45,"y":0.6},{"c":"d4","t":"d","x":0.5,"y":0.55},{"c":"d4","t":"d","x":0.55,"y":0.7},{"c":"d4","t":"d","x":0.6,"y":1.0},{"c":"d4","t":"d","x":0.65,"y":1.1},{"c":"d4","t":"d","x":0.7,"y":1.2},{"c":"d4","t":"d","x":0.75,"y":1.55},{"c":"d4","t":"d","x":0.8,"y":2.1},{"c":"d4","t":"d","x":0.83,"y":2.5},{"c":"d4","t":"d","x":0.86,"y":2.69},{"c":"d4","t":"d","x":0.89,"y":2.55},{"c":"d4","t":"d","x":0.92,"y":2.1},{"c":"d4","t":"d","x":0.95,"y":1.5},{"c":"d4","t":"d","x":0.98,"y":0.95},{"c":"d4","t":"d","x":1.01,"y":0.55},{"c":"d4","t":"d","x":1.04,"y":0.3},
{"c":"d5","t":"d","x":-0.04,"y":0.05},{"c":"d5","t":"d","x":0,"y":0.12},{"c":"d5","t":"d","x":0.05,"y":0.25},{"c":"d5","t":"d","x":0.1,"y":0.3},{"c":"d5","t":"d","x":0.15,"y":0.22},{"c":"d5","t":"d","x":0.2,"y":0.1},{"c":"d5","t":"d","x":0.25,"y":0.02},{"c":"d5","t":"d","x":0.3,"y":0.02},{"c":"d5","t":"d","x":0.35,"y":0.15},{"c":"d5","t":"d","x":0.4,"y":0.35},{"c":"d5","t":"d","x":0.45,"y":0.45},{"c":"d5","t":"d","x":0.5,"y":0.45},{"c":"d5","t":"d","x":0.55,"y":0.5},{"c":"d5","t":"d","x":0.6,"y":0.7},{"c":"d5","t":"d","x":0.65,"y":1.3},{"c":"d5","t":"d","x":0.68,"y":1.95},{"c":"d5","t":"d","x":0.715,"y":2.37},{"c":"d5","t":"d","x":0.74,"y":2.2},{"c":"d5","t":"d","x":0.76,"y":1.98},{"c":"d5","t":"d","x":0.78,"y":1.97},{"c":"d5","t":"d","x":0.81,"y":2.05},{"c":"d5","t":"d","x":0.85,"y":2.0},{"c":"d5","t":"d","x":0.88,"y":1.8},{"c":"d5","t":"d","x":0.92,"y":1.3},{"c":"d5","t":"d","x":0.96,"y":0.8},{"c":"d5","t":"d","x":1.0,"y":0.45},{"c":"d5","t":"d","x":1.04,"y":0.25},
{"c":"d6","t":"d","x":-0.04,"y":0.03},{"c":"d6","t":"d","x":0,"y":0.1},{"c":"d6","t":"d","x":0.05,"y":0.22},{"c":"d6","t":"d","x":0.1,"y":0.28},{"c":"d6","t":"d","x":0.15,"y":0.3},{"c":"d6","t":"d","x":0.2,"y":0.22},{"c":"d6","t":"d","x":0.25,"y":0.15},{"c":"d6","t":"d","x":0.3,"y":0.12},{"c":"d6","t":"d","x":0.35,"y":0.22},{"c":"d6","t":"d","x":0.4,"y":0.5},{"c":"d6","t":"d","x":0.45,"y":0.8},{"c":"d6","t":"d","x":0.5,"y":1.0},{"c":"d6","t":"d","x":0.55,"y":1.05},{"c":"d6","t":"d","x":0.6,"y":1.1},{"c":"d6","t":"d","x":0.65,"y":1.4},{"c":"d6","t":"d","x":0.7,"y":1.8},{"c":"d6","t":"d","x":0.74,"y":1.97},{"c":"d6","t":"d","x":0.78,"y":1.95},{"c":"d6","t":"d","x":0.82,"y":2.0},{"c":"d6","t":"d","x":0.86,"y":2.15},{"c":"d6","t":"d","x":0.9,"y":2.27},{"c":"d6","t":"d","x":0.93,"y":2.1},{"c":"d6","t":"d","x":0.96,"y":1.5},{"c":"d6","t":"d","x":1.0,"y":0.8},{"c":"d6","t":"d","x":1.04,"y":0.35},
{"c":"d7","t":"d","x":-0.04,"y":0.08},{"c":"d7","t":"d","x":0,"y":0.18},{"c":"d7","t":"d","x":0.05,"y":0.3},{"c":"d7","t":"d","x":0.1,"y":0.35},{"c":"d7","t":"d","x":0.15,"y":0.3},{"c":"d7","t":"d","x":0.2,"y":0.28},{"c":"d7","t":"d","x":0.25,"y":0.3},{"c":"d7","t":"d","x":0.3,"y":0.35},{"c":"d7","t":"d","x":0.35,"y":0.45},{"c":"d7","t":"d","x":0.4,"y":0.75},{"c":"d7","t":"d","x":0.45,"y":0.95},{"c":"d7","t":"d","x":0.5,"y":0.95},{"c":"d7","t":"d","x":0.55,"y":0.9},{"c":"d7","t":"d","x":0.6,"y":0.9},{"c":"d7","t":"d","x":0.65,"y":0.95},{"c":"d7","t":"d","x":0.7,"y":1.1},{"c":"d7","t":"d","x":0.75,"y":1.4},{"c":"d7","t":"d","x":0.8,"y":1.8},{"c":"d7","t":"d","x":0.84,"y":2.1},{"c":"d7","t":"d","x":0.87,"y":2.17},{"c":"d7","t":"d","x":0.9,"y":2.0},{"c":"d7","t":"d","x":0.93,"y":1.6},{"c":"d7","t":"d","x":0.96,"y":1.1},{"c":"d7","t":"d","x":1.0,"y":0.6},{"c":"d7","t":"d","x":1.04,"y":0.3},
{"c":"d8","t":"d","x":-0.04,"y":0.03},{"c":"d8","t":"d","x":0,"y":0.1},{"c":"d8","t":"d","x":0.05,"y":0.2},{"c":"d8","t":"d","x":0.1,"y":0.25},{"c":"d8","t":"d","x":0.15,"y":0.22},{"c":"d8","t":"d","x":0.2,"y":0.14},{"c":"d8","t":"d","x":0.25,"y":0.07},{"c":"d8","t":"d","x":0.3,"y":0.06},{"c":"d8","t":"d","x":0.35,"y":0.15},{"c":"d8","t":"d","x":0.4,"y":0.4},{"c":"d8","t":"d","x":0.45,"y":0.8},{"c":"d8","t":"d","x":0.5,"y":1.2},{"c":"d8","t":"d","x":0.55,"y":1.45},{"c":"d8","t":"d","x":0.6,"y":1.6},{"c":"d8","t":"d","x":0.63,"y":1.62},{"c":"d8","t":"d","x":0.66,"y":1.5},{"c":"d8","t":"d","x":0.7,"y":1.2},{"c":"d8","t":"d","x":0.74,"y":1.25},{"c":"d8","t":"d","x":0.78,"y":1.45},{"c":"d8","t":"d","x":0.82,"y":1.7},{"c":"d8","t":"d","x":0.86,"y":1.9},{"c":"d8","t":"d","x":0.88,"y":1.92},{"c":"d8","t":"d","x":0.91,"y":1.8},{"c":"d8","t":"d","x":0.94,"y":1.4},{"c":"d8","t":"d","x":0.97,"y":0.95},{"c":"d8","t":"d","x":1.0,"y":0.55},{"c":"d8","t":"d","x":1.04,"y":0.25},
{"c":"d9","t":"d","x":-0.04,"y":0.01},{"c":"d9","t":"d","x":0,"y":0.06},{"c":"d9","t":"d","x":0.05,"y":0.2},{"c":"d9","t":"d","x":0.1,"y":0.3},{"c":"d9","t":"d","x":0.15,"y":0.3},{"c":"d9","t":"d","x":0.2,"y":0.28},{"c":"d9","t":"d","x":0.25,"y":0.3},{"c":"d9","t":"d","x":0.3,"y":0.4},{"c":"d9","t":"d","x":0.35,"y":0.65},{"c":"d9","t":"d","x":0.4,"y":1.0},{"c":"d9","t":"d","x":0.45,"y":1.45},{"c":"d9","t":"d","x":0.5,"y":1.68},{"c":"d9","t":"d","x":0.53,"y":1.65},{"c":"d9","t":"d","x":0.57,"y":1.35},{"c":"d9","t":"d","x":0.6,"y":1.1},{"c":"d9","t":"d","x":0.64,"y":0.95},{"c":"d9","t":"d","x":0.68,"y":1.05},{"c":"d9","t":"d","x":0.72,"y":1.3},{"c":"d9","t":"d","x":0.77,"y":1.55},{"c":"d9","t":"d","x":0.82,"y":1.75},{"c":"d9","t":"d","x":0.86,"y":1.85},{"c":"d9","t":"d","x":0.89,"y":1.87},{"c":"d9","t":"d","x":0.92,"y":1.7},{"c":"d9","t":"d","x":0.95,"y":1.3},{"c":"d9","t":"d","x":0.98,"y":0.85},{"c":"d9","t":"d","x":1.01,"y":0.5},{"c":"d9","t":"d","x":1.04,"y":0.3},
{"c":"d10","t":"d","x":-0.04,"y":0.07},{"c":"d10","t":"d","x":0,"y":0.16},{"c":"d10","t":"d","x":0.05,"y":0.28},{"c":"d10","t":"d","x":0.1,"y":0.3},{"c":"d10","t":"d","x":0.15,"y":0.22},{"c":"d10","t":"d","x":0.2,"y":0.12},{"c":"d10","t":"d","x":0.25,"y":0.1},{"c":"d10","t":"d","x":0.3,"y":0.2},{"c":"d10","t":"d","x":0.35,"y":0.55},{"c":"d10","t":"d","x":0.4,"y":1.1},{"c":"d10","t":"d","x":0.43,"y":1.25},{"c":"d10","t":"d","x":0.46,"y":1.0},{"c":"d10","t":"d","x":0.5,"y":0.55},{"c":"d10","t":"d","x":0.53,"y":0.25},{"c":"d10","t":"d","x":0.565,"y":0.08},{"c":"d10","t":"d","x":0.6,"y":0.25},{"c":"d10","t":"d","x":0.64,"y":0.7},{"c":"d10","t":"d","x":0.68,"y":1.3},{"c":"d10","t":"d","x":0.72,"y":1.8},{"c":"d10","t":"d","x":0.76,"y":2.1},{"c":"d10","t":"d","x":0.8,"y":2.35},{"c":"d10","t":"d","x":0.84,"y":2.55},{"c":"d10","t":"d","x":0.87,"y":2.6},{"c":"d10","t":"d","x":0.9,"y":2.45},{"c":"d10","t":"d","x":0.93,"y":2.0},{"c":"d10","t":"d","x":0.96,"y":1.4},{"c":"d10","t":"d","x":1.0,"y":0.7},{"c":"d10","t":"d","x":1.04,"y":0.3},
{"c":"d11","t":"d","x":-0.04,"y":0.03},{"c":"d11","t":"d","x":0,"y":0.1},{"c":"d11","t":"d","x":0.05,"y":0.25},{"c":"d11","t":"d","x":0.1,"y":0.3},{"c":"d11","t":"d","x":0.15,"y":0.25},{"c":"d11","t":"d","x":0.2,"y":0.18},{"c":"d11","t":"d","x":0.25,"y":0.15},{"c":"d11","t":"d","x":0.3,"y":0.2},{"c":"d11","t":"d","x":0.35,"y":0.35},{"c":"d11","t":"d","x":0.4,"y":0.6},{"c":"d11","t":"d","x":0.45,"y":0.95},{"c":"d11","t":"d","x":0.5,"y":1.35},{"c":"d11","t":"d","x":0.54,"y":1.55},{"c":"d11","t":"d","x":0.57,"y":1.6},{"c":"d11","t":"d","x":0.61,"y":1.45},{"c":"d11","t":"d","x":0.65,"y":1.1},{"c":"d11","t":"d","x":0.68,"y":0.95},{"c":"d11","t":"d","x":0.72,"y":1.05},{"c":"d11","t":"d","x":0.76,"y":1.35},{"c":"d11","t":"d","x":0.8,"y":1.65},{"c":"d11","t":"d","x":0.84,"y":1.85},{"c":"d11","t":"d","x":0.87,"y":1.9},{"c":"d11","t":"d","x":0.9,"y":1.8},{"c":"d11","t":"d","x":0.93,"y":1.45},{"c":"d11","t":"d","x":0.96,"y":1.0},{"c":"d11","t":"d","x":1.0,"y":0.5},{"c":"d11","t":"d","x":1.04,"y":0.2},
{"c":"d12","t":"d","x":-0.04,"y":0.05},{"c":"d12","t":"d","x":0,"y":0.13},{"c":"d12","t":"d","x":0.05,"y":0.26},{"c":"d12","t":"d","x":0.1,"y":0.33},{"c":"d12","t":"d","x":0.15,"y":0.28},{"c":"d12","t":"d","x":0.2,"y":0.18},{"c":"d12","t":"d","x":0.25,"y":0.1},{"c":"d12","t":"d","x":0.3,"y":0.12},{"c":"d12","t":"d","x":0.35,"y":0.3},{"c":"d12","t":"d","x":0.38,"y":0.55},{"c":"d12","t":"d","x":0.41,"y":0.85},{"c":"d12","t":"d","x":0.44,"y":0.7},{"c":"d12","t":"d","x":0.47,"y":0.45},{"c":"d12","t":"d","x":0.5,"y":0.25},{"c":"d12","t":"d","x":0.53,"y":0.35},{"c":"d12","t":"d","x":0.57,"y":0.9},{"c":"d12","t":"d","x":0.6,"y":1.45},{"c":"d12","t":"d","x":0.62,"y":1.65},{"c":"d12","t":"d","x":0.65,"y":1.55},{"c":"d12","t":"d","x":0.68,"y":1.2},{"c":"d12","t":"d","x":0.71,"y":1.0},{"c":"d12","t":"d","x":0.75,"y":1.15},{"c":"d12","t":"d","x":0.8,"y":1.8},{"c":"d12","t":"d","x":0.84,"y":2.35},{"c":"d12","t":"d","x":0.87,"y":2.45},{"c":"d12","t":"d","x":0.9,"y":2.25},{"c":"d12","t":"d","x":0.93,"y":1.7},{"c":"d12","t":"d","x":0.96,"y":1.1},{"c":"d12","t":"d","x":1.0,"y":0.55},{"c":"d12","t":"d","x":1.04,"y":0.25}
]
}
}
